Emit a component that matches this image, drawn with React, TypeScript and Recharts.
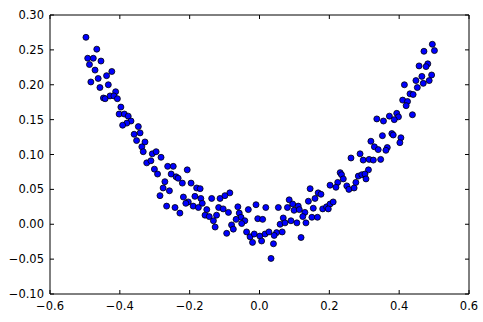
import { ScatterChart, Scatter, XAxis, YAxis, ReferenceArea } from "recharts";

// values
const xValues = [
  -0.497, -0.466, -0.492, -0.476, -0.454, -0.487, -0.471, -0.423, -0.438, -0.462,
  -0.483, -0.433, -0.457, -0.412, -0.447, -0.442, -0.428, -0.417, -0.407, -0.397,
  -0.402, -0.387, -0.376, -0.368, -0.380, -0.392, -0.347, -0.342, -0.359, -0.352,
  -0.328, -0.337, -0.333, -0.307, -0.323, -0.311, -0.296, -0.282, -0.301, -0.292,
  -0.263, -0.247, -0.207, -0.253, -0.239, -0.233, -0.271, -0.221, -0.196, -0.276,
  -0.258, -0.180, -0.170, -0.285, -0.218, -0.185, -0.168, -0.137, -0.113, -0.204,
  -0.211, -0.164, -0.266, -0.242, -0.190, -0.175, -0.151, -0.117, -0.228, -0.156,
  -0.144, -0.123, -0.132, -0.127, -0.085, -0.099, -0.104, -0.089, -0.062, -0.058,
  -0.053, -0.067, -0.042, -0.051, -0.032, -0.010, 0.018, 0.054, -0.005, 0.009,
  -0.080, -0.075, -0.094, -0.037, -0.027, -0.015, 0.001, -0.020, 0.006, 0.016,
  0.027, 0.049, 0.065, 0.042, 0.059, 0.068, 0.040, 0.033,
  0.262, 0.231, 0.235, 0.240, 0.224, 0.202, 0.219, 0.250, 0.256, 0.271,
  0.145, 0.168, 0.176, 0.159, 0.140, 0.085, 0.095, 0.111, 0.080, 0.099,
  0.114, 0.130, 0.154, 0.181, 0.192, 0.202, 0.211, 0.197, 0.124, 0.150,
  0.166, 0.073, 0.090, 0.107, 0.133, 0.119,
  0.457, 0.465, 0.448, 0.469, 0.415, 0.452, 0.431, 0.440, 0.410, 0.424,
  0.420, 0.438, 0.393, 0.372, 0.398, 0.386, 0.336, 0.355, 0.379, 0.383,
  0.352, 0.405, 0.402, 0.319, 0.329, 0.340, 0.366, 0.362, 0.288, 0.297,
  0.314, 0.326, 0.347, 0.312, 0.283, 0.293, 0.302, 0.305, 0.276,
  0.495, 0.471, 0.501, 0.482, 0.477, 0.493, 0.486,
];

const yValues = [
  0.268, 0.251, 0.238, 0.238, 0.234, 0.229, 0.221, 0.219, 0.213, 0.209,
  0.204, 0.200, 0.196, 0.190, 0.181, 0.180, 0.184, 0.184, 0.180, 0.168,
  0.158, 0.158, 0.155, 0.148, 0.145, 0.142, 0.140, 0.131, 0.129, 0.120,
  0.118, 0.111, 0.104, 0.101, 0.088, 0.091, 0.104, 0.096, 0.079, 0.072,
  0.083, 0.083, 0.078, 0.072, 0.068, 0.066, 0.061, 0.059, 0.059, 0.052,
  0.048, 0.052, 0.051, 0.041, 0.039, 0.040, 0.037, 0.037, 0.037, 0.032,
  0.030, 0.030, 0.026, 0.024, 0.026, 0.024, 0.021, 0.024, 0.016, 0.013,
  0.011, 0.013, 0.005, -0.004, 0.045, 0.041, 0.022, 0.017, 0.025, 0.016,
  0.010, 0.007, 0.005, 0.001, 0.021, 0.028, 0.024, 0.024, 0.008, 0.007,
  -0.001, -0.007, -0.013, -0.011, -0.018, -0.014, -0.017, -0.026, -0.024, -0.014,
  -0.011, -0.012, -0.011, -0.016, 0.000, 0.009, -0.028, -0.049,
  0.095, 0.074, 0.071, 0.065, 0.060, 0.056, 0.053, 0.055, 0.050, 0.052,
  0.051, 0.045, 0.043, 0.037, 0.033, 0.035, 0.029, 0.026, 0.024, 0.020,
  0.021, 0.017, 0.023, 0.022, 0.025, 0.029, 0.032, 0.022, 0.011, 0.010,
  0.010, 0.002, 0.005, 0.002, 0.002, -0.019,
  0.227, 0.212, 0.206, 0.202, 0.200, 0.196, 0.187, 0.186, 0.178, 0.176,
  0.170, 0.157, 0.159, 0.155, 0.154, 0.150, 0.151, 0.148, 0.130, 0.128,
  0.127, 0.124, 0.117, 0.119, 0.111, 0.107, 0.110, 0.106, 0.101, 0.092,
  0.093, 0.092, 0.093, 0.078, 0.069, 0.071, 0.072, 0.065, 0.060,
  0.258, 0.248, 0.249, 0.230, 0.226, 0.214, 0.206,
];

const xTicks = [-0.6, -0.4, -0.2, 0, 0.2, 0.4, 0.6];
const xTickLabels = ["\u22120.6", "\u22120.4", "\u22120.2", "0.0", "0.2", "0.4", "0.6"];
const yTicks = [-0.1, -0.05, 0, 0.05, 0.1, 0.15, 0.2, 0.25, 0.3];
const yTickLabels = ["\u22120.10", "\u22120.05", "0.00", "0.05", "0.10", "0.15", "0.20", "0.25", "0.30"];

const W = 483, H = 322;
const M = { top: 15, right: 14, left: 0, bottom: 0 };
const Y_AXIS_W = 50, X_AXIS_H = 28;
const PLOT_TOP = M.top, PLOT_BOTTOM = H - X_AXIS_H;
const PLOT_LEFT = Y_AXIS_W, PLOT_RIGHT = W - M.right;
const FONT = "'DejaVu Sans', sans-serif";

const data = xValues.map((x, i) => ({ x, y: yValues[i] }));

function XTick({ x, y, index }: any) {
  return (
    <g>
      <line x1={x} x2={x} y1={PLOT_BOTTOM} y2={PLOT_BOTTOM - 4} stroke="#000" />
      <line x1={x} x2={x} y1={PLOT_TOP} y2={PLOT_TOP + 4} stroke="#000" />
      <text x={x} y={y + 16} textAnchor="middle" fontSize={11.5} fontFamily={FONT} fill="#000">
        {xTickLabels[index]}
      </text>
    </g>
  );
}

function YTick({ x, y, index }: any) {
  return (
    <g>
      <line x1={PLOT_LEFT} x2={PLOT_LEFT + 4} y1={y} y2={y} stroke="#000" />
      <line x1={PLOT_RIGHT} x2={PLOT_RIGHT - 4} y1={y} y2={y} stroke="#000" />
      <text x={x - 6} y={y + 4} textAnchor="end" fontSize={11.5} fontFamily={FONT} fill="#000">
        {yTickLabels[index]}
      </text>
    </g>
  );
}

const dot = (p: any) => (
  <circle cx={p.cx} cy={p.cy} r={3} fill="#0000ff" stroke="#000" strokeWidth={0.8} />
);

export default function App() {
  return (
    <div style={{ position: "absolute", left: 0, top: 0, width: W, height: H, background: "#fff" }}>
      <ScatterChart width={W} height={H} margin={M}>
        <XAxis type="number" dataKey="x" domain={[-0.6, 0.6]} ticks={xTicks} interval={0}
          allowDataOverflow axisLine={false} tickLine={false} tickSize={0} tickMargin={0}
          height={X_AXIS_H} tick={<XTick />} />
        <YAxis type="number" dataKey="y" domain={[-0.1, 0.3]} ticks={yTicks} interval={0}
          allowDataOverflow axisLine={false} tickLine={false} tickSize={0} tickMargin={0}
          width={Y_AXIS_W} tick={<YTick />} />
        <Scatter data={data} shape={dot} isAnimationActive={false} />
        <ReferenceArea x1={-0.6} x2={0.6} y1={-0.1} y2={0.3} fill="none" stroke="#000" strokeWidth={1} />
      </ScatterChart>
    </div>
  );
}
